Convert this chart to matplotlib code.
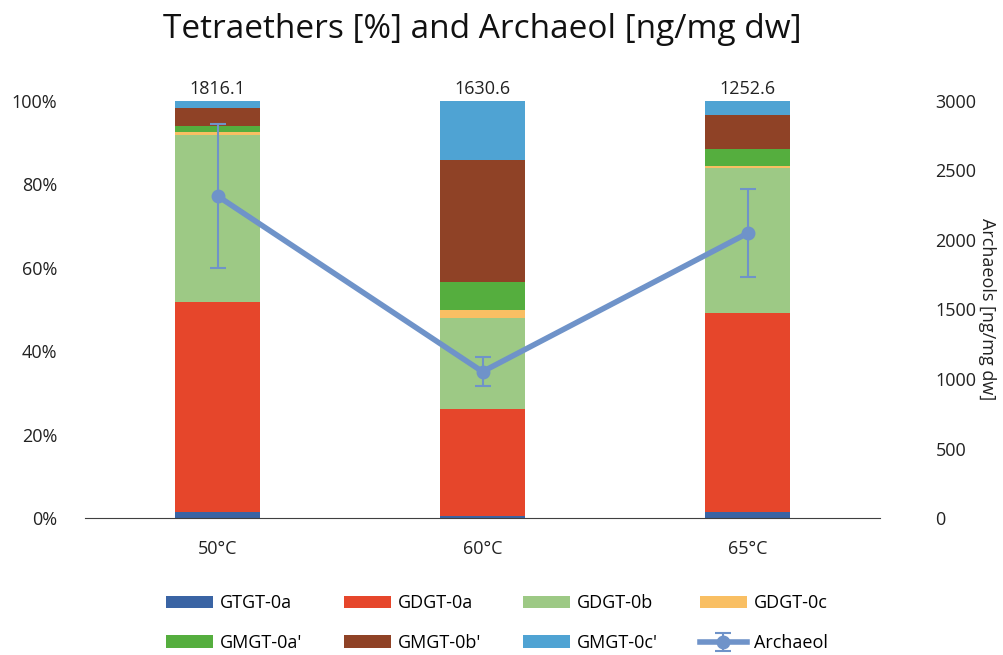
import numpy as np
import matplotlib.pyplot as plt

plt.rcParams['font.family'] = ['Open Sans', 'DejaVu Sans']

temps = ["50°C", "60°C", "65°C"]
gtgt_0a = [1.4, 0.5, 1.5]
gdgt_0a = [50.5, 25.6, 47.6]
gdgt_0b = [39.9, 21.9, 34.9]
gdgt_0c = [0.8, 1.9, 0.4]
gmgt_0a = [1.4, 6.8, 4.0]
gmgt_0b = [4.4, 29.2, 8.1]
gmgt_0c = [1.6, 14.1, 3.5]
archaeol = [2316, 1053, 2048]
archaeol_err = [515, 105, 318]
totals = ["1816.1", "1630.6", "1252.6"]

series = [("GTGT-0a", gtgt_0a, "#3A64A4"),
          ("GDGT-0a", gdgt_0a, "#E6462B"),
          ("GDGT-0b", gdgt_0b, "#9DC985"),
          ("GDGT-0c", gdgt_0c, "#F9BF63"),
          ("GMGT-0a'", gmgt_0a, "#55AE3E"),
          ("GMGT-0b'", gmgt_0b, "#8F4226"),
          ("GMGT-0c'", gmgt_0c, "#4FA3D3")]

fig = plt.figure(figsize=(10.04, 6.55), dpi=100)
ax = fig.add_axes([0.0847, 0.209, 0.7918, 0.637])
x = np.arange(len(temps))
bottom = np.zeros(len(temps))
handles = []
for name, vals, col in series:
    b = ax.bar(x, vals, 0.32, bottom=bottom, color=col, label=name, zorder=2)
    handles.append(b)
    bottom += np.array(vals)

ax.set_ylim(0, 100)
ax.set_xlim(-0.5, 2.5)
ax.set_yticks(np.arange(0, 101, 20))
ax.set_yticklabels([f"{v}%" for v in range(0, 101, 20)])
ax.set_xticks(x)
ax.set_xticklabels(temps)
for s in ["top", "right", "left"]:
    ax.spines[s].set_visible(False)
ax.spines["bottom"].set_color("#404040")
ax.tick_params(axis="both", length=0, labelsize=13, colors="#222222")
ax.tick_params(axis="x", pad=16)
ax.tick_params(axis="y", pad=20)

for xi, t in zip(x, totals):
    ax.text(xi, 100.8, t, ha="center", va="bottom", fontsize=13, color="#222222")

ax2 = ax.twinx()
line = ax2.errorbar(x, archaeol, yerr=archaeol_err, color="#6F93C9", lw=4, marker="o",
                    ms=9, elinewidth=1.5, capsize=6, capthick=1.5, zorder=5, label="Archaeol")
ax2.set_ylim(0, 3000)
ax2.set_yticks(np.arange(0, 3001, 500))
for s in ["top", "right", "left", "bottom"]:
    ax2.spines[s].set_visible(False)
ax2.tick_params(axis="y", length=0, labelsize=13, colors="#222222", pad=40)
ax2.set_ylabel("Archaeols [ng/mg dw]", rotation=-90, fontsize=13, color="#222222", labelpad=14)

fig.suptitle("Tetraethers [%] and Archaeol [ng/mg dw]", fontsize=24, x=0.48, y=0.98, color="#111111")

labels = [s[0] for s in series] + ["Archaeol"]
allh = handles + [line]
order = [0, 4, 1, 5, 2, 6, 3, 7]
fig.legend([allh[i] for i in order], [labels[i] for i in order], loc="lower center",
           bbox_to_anchor=(0.495, -0.02), ncol=4, frameon=False, fontsize=13,
           handlelength=2.6, handleheight=0.7, handletextpad=0.4,
           columnspacing=2.3, labelspacing=1.2)

fig.savefig("out.png", dpi=100)
